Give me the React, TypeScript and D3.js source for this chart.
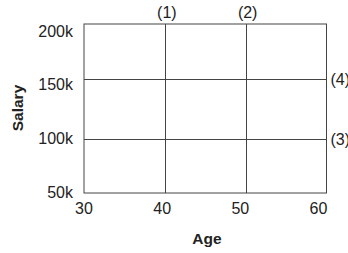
import { useRef, useEffect } from "react";
import * as d3 from "d3";

const xTicks = [30, 40, 50, 60];
const yTicks = [50000, 100000, 150000, 200000];
const xRefLines = [
  { value: 40, label: "(1)" },
  { value: 50, label: "(2)" },
];
const yRefLines = [
  { value: 100000, label: "(3)" },
  { value: 155000, label: "(4)" },
];
const xDomain = [30, 60];
const yDomain = [50000, 206000];

export default function App() {
  const svgRef = useRef<SVGSVGElement>(null);

  useEffect(() => {
    if (!svgRef.current) return;
    const width = 348;
    const height = 253;
    const svg = d3.select(svgRef.current);
    svg.selectAll("*").remove();
    svg.attr("width", width).attr("height", height);

    const left = 84;
    const right = 326.5;
    const top = 24;
    const bottom = 193;

    const x = d3.scaleLinear().domain(xDomain).range([left, right]);
    const y = d3.scaleLinear().domain(yDomain).range([bottom, top]);

    const font = "'Liberation Sans', Arial, sans-serif";
    const lineColor = "#444";
    const textColor = "#222";

    // frame
    svg
      .append("rect")
      .attr("x", left)
      .attr("y", top)
      .attr("width", right - left)
      .attr("height", bottom - top)
      .attr("fill", "none")
      .attr("stroke", lineColor)
      .attr("stroke-width", 1);

    // vertical reference lines
    svg
      .append("g")
      .selectAll("line")
      .data(xRefLines)
      .join("line")
      .attr("x1", (d) => Math.round(x(d.value)) + 0.5)
      .attr("x2", (d) => Math.round(x(d.value)) + 0.5)
      .attr("y1", top)
      .attr("y2", bottom)
      .attr("stroke", lineColor);

    svg
      .append("g")
      .selectAll("text")
      .data(xRefLines)
      .join("text")
      .attr("x", (d) => x(d.value) + 2)
      .attr("y", top - 6)
      .attr("text-anchor", "middle")
      .attr("font-family", font)
      .attr("font-size", 16)
      .attr("fill", textColor)
      .text((d) => d.label);

    // horizontal reference lines
    svg
      .append("g")
      .selectAll("line")
      .data(yRefLines)
      .join("line")
      .attr("x1", left)
      .attr("x2", right)
      .attr("y1", (d) => Math.round(y(d.value)) + 0.5)
      .attr("y2", (d) => Math.round(y(d.value)) + 0.5)
      .attr("stroke", lineColor);

    svg
      .append("g")
      .selectAll("text")
      .data(yRefLines)
      .join("text")
      .attr("x", right + 4)
      .attr("y", (d) => y(d.value) + 6)
      .attr("font-family", font)
      .attr("font-size", 16)
      .attr("fill", textColor)
      .text((d) => d.label);

    // x axis labels
    const xLabel = d3.scaleLinear().domain(xDomain).range([left, right - 8]);
    svg
      .append("g")
      .selectAll("text")
      .data(xTicks)
      .join("text")
      .attr("x", (d) => xLabel(d))
      .attr("y", bottom + 21)
      .attr("text-anchor", "middle")
      .attr("font-family", font)
      .attr("font-size", 16)
      .attr("fill", textColor)
      .text((d) => String(d));

    // y axis labels
    const yLabel = d3.scaleLinear().domain([50000, 200000]).range([192.5, 31]);
    svg
      .append("g")
      .selectAll("text")
      .data(yTicks)
      .join("text")
      .attr("x", left - 11)
      .attr("y", (d) => yLabel(d) + 5.5)
      .attr("text-anchor", "end")
      .attr("font-family", font)
      .attr("font-size", 16)
      .attr("fill", textColor)
      .text((d) => d3.format("~s")(d));

    // titles
    svg
      .append("text")
      .attr("x", 207)
      .attr("y", 244)
      .attr("text-anchor", "middle")
      .attr("font-family", font)
      .attr("font-size", 15.5)
      .attr("font-weight", "bold")
      .attr("fill", textColor)
      .text("Age");

    svg
      .append("text")
      .attr("transform", "translate(23,108) rotate(-90)")
      .attr("text-anchor", "middle")
      .attr("font-family", font)
      .attr("font-size", 15.5)
      .attr("font-weight", "bold")
      .attr("fill", textColor)
      .text("Salary");
  }, []);

  return (
    <svg
      ref={svgRef}
      style={{ position: "absolute", left: 0, top: 0, display: "block" }}
    />
  );
}
